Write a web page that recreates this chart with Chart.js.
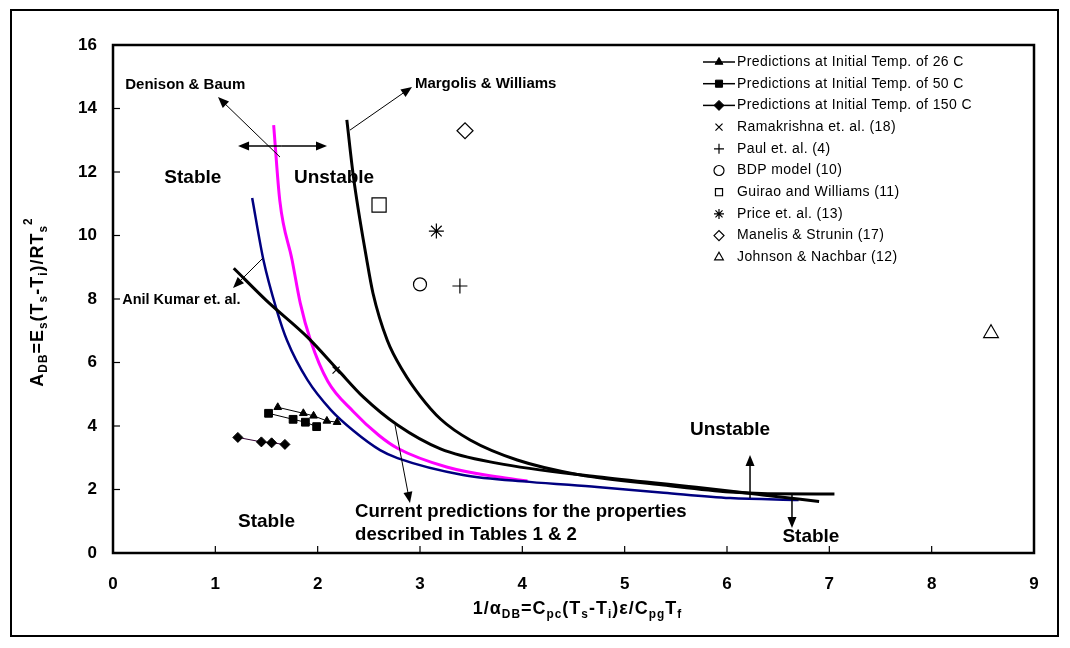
<!DOCTYPE html>
<html>
<head>
<meta charset="utf-8">
<script src="https://cdn.jsdelivr.net/npm/chart.js@4.4.1/dist/chart.umd.min.js"></script>
<style>
  html, body { margin: 0; background: #fff; }
  #wrap { width: 1070px; height: 648px; }
</style>
</head>
<body>
<div id="wrap"><canvas id="grafico"></canvas></div>
<script>
// measured predictions (small marker series)
const temp26X = [1.61, 1.86, 1.96, 2.09, 2.19];
const temp26Y = [4.59, 4.40, 4.32, 4.16, 4.12];
const temp50X = [1.52, 1.76, 1.88, 1.99];
const temp50Y = [4.40, 4.21, 4.12, 3.98];
const temp150X = [1.22, 1.45, 1.55, 1.68];
const temp150Y = [3.64, 3.50, 3.47, 3.42];

// literature points
const ramakrishna = [2.18, 5.76];
const paul = [3.39, 8.41];
const bdp = [3.00, 8.46];
const guirao = [2.60, 10.96];
const price = [3.16, 10.14];
const manelis = [3.44, 13.30];
const johnson = [8.58, 6.92];

// stability boundaries
const margolisX = [2.285, 2.35, 2.48, 2.54, 2.68, 2.84, 3.00, 3.20, 3.49, 3.95, 4.56, 5.38, 6.03, 6.40, 7.05];
const margolisY = [13.64, 11.84, 9.23, 8.19, 6.70, 5.70, 4.95, 4.22, 3.56, 2.93, 2.46, 2.14, 1.92, 1.87, 1.86];
const anilX = [1.18, 1.50, 1.90, 2.20, 2.45, 2.78, 3.20, 3.75, 4.73, 5.70, 6.35, 6.90];
const anilY = [8.97, 7.95, 6.80, 5.76, 4.90, 4.03, 3.28, 2.83, 2.40, 2.07, 1.83, 1.62];
const blueX = [1.36, 1.47, 1.60, 1.70, 1.90, 2.13, 2.35, 2.61, 2.78, 3.42, 4.07, 4.73, 5.38, 6.03, 6.70];
const blueY = [11.18, 9.23, 7.65, 6.70, 5.45, 4.50, 3.85, 3.24, 2.99, 2.46, 2.24, 2.08, 1.90, 1.73, 1.67];
const magentaX = [1.57, 1.63, 1.75, 1.83, 1.93, 2.10, 2.35, 2.60, 2.78, 3.26, 3.75, 4.05];
const magentaY = [13.48, 11.10, 9.23, 7.87, 6.70, 5.40, 4.45, 3.70, 3.30, 2.71, 2.40, 2.27];

const xTicks = [0, 1, 2, 3, 4, 5, 6, 7, 8, 9];
const yTicks = [0, 2, 4, 6, 8, 10, 12, 14, 16];

const pts = (xs, ys) => xs.map((x, i) => ({ x: x, y: ys[i] }));
const one = p => [{ x: p[0], y: p[1] }];

// text and arrows, in data units
const notes = [
    { text: 'Denison & Baum', x: 0.12, y: 14.74, size: 15, align: 'left' },
    { text: 'Margolis & Williams', x: 2.95, y: 14.77, size: 15, align: 'left' },
    { text: 'Stable', x: 0.78, y: 11.81, size: 19, align: 'center' },
    { text: 'Unstable', x: 2.16, y: 11.81, size: 19, align: 'center' },
    { text: 'Anil Kumar et. al.', x: 0.09, y: 7.97, size: 14.5, align: 'left' },
    { text: 'Current predictions for the properties', x: 2.365, y: 1.29, size: 18.6, align: 'left' },
    { text: 'described in Tables 1 & 2', x: 2.365, y: 0.57, size: 18.6, align: 'left' },
    { text: 'Unstable', x: 6.03, y: 3.87, size: 19, align: 'center' },
    { text: 'Stable', x: 6.82, y: 0.5, size: 19, align: 'center' },
    { text: 'Stable', x: 1.50, y: 0.98, size: 19, align: 'center' }
];
const arrows = [
    { from: [1.632, 12.47], to: [1.026, 14.36], w: 1 },
    { from: [1.65, 12.82], to: [1.222, 12.82], w: 1.5 },
    { from: [1.65, 12.82], to: [2.091, 12.82], w: 1.5 },
    { from: [2.316, 13.32], to: [2.922, 14.68], w: 1 },
    { from: [1.466, 9.29], to: [1.173, 8.35], w: 1 },
    { from: [2.756, 4.03], to: [2.902, 1.575], w: 1 },
    { from: [6.225, 1.73], to: [6.225, 3.09], w: 1.5 },
    { from: [6.635, 1.83], to: [6.635, 0.79], w: 1.5 }
];

const FONT = '"Liberation Sans", Arial, sans-serif';

function drawArrow(ctx, x1, y1, x2, y2, w) {
    const a = Math.atan2(y2 - y1, x2 - x1);
    ctx.save();
    ctx.strokeStyle = '#000';
    ctx.fillStyle = '#000';
    ctx.lineWidth = w;
    ctx.beginPath();
    ctx.moveTo(x1, y1);
    ctx.lineTo(x2 - 6 * Math.cos(a), y2 - 6 * Math.sin(a));
    ctx.stroke();
    ctx.beginPath();
    ctx.moveTo(x2, y2);
    ctx.lineTo(x2 - 11 * Math.cos(a) + 4.5 * Math.sin(a), y2 - 11 * Math.sin(a) - 4.5 * Math.cos(a));
    ctx.lineTo(x2 - 11 * Math.cos(a) - 4.5 * Math.sin(a), y2 - 11 * Math.sin(a) + 4.5 * Math.cos(a));
    ctx.closePath();
    ctx.fill();
    ctx.restore();
}

// text with subscripts / superscripts
function richWidth(ctx, parts, size) {
    let w = 0;
    parts.forEach(p => {
        ctx.font = 'bold ' + (p[1] ? size * 0.66 : size) + 'px ' + FONT;
        w += ctx.measureText(p[0]).width;
    });
    return w;
}
function drawRich(ctx, parts, x, y, size) {
    parts.forEach(p => {
        const s = p[1] ? size * 0.66 : size;
        ctx.font = 'bold ' + s + 'px ' + FONT;
        let dy = 0;
        if (p[1] === 'sub') dy = size * 0.3;
        if (p[1] === 'sup') dy = -size * 0.5;
        ctx.fillText(p[0], x, y + dy);
        x += ctx.measureText(p[0]).width;
    });
}

const xTitle = [['1/α'], ['DB', 'sub'], ['=C'], ['pc', 'sub'], ['(T'], ['s', 'sub'], ['-T'], ['i', 'sub'],
    [')ε/C'], ['pg', 'sub'], ['T'], ['f', 'sub']];
const yTitle = [['A'], ['DB', 'sub'], ['=E'], ['s', 'sub'], ['(T'], ['s', 'sub'], ['-T'], ['i', 'sub'],
    [')/RT'], ['s', 'sub'], ['2', 'sup']];

const extras = {
    id: 'extras',
    afterDraw(chart) {
        const ctx = chart.ctx;
        const a = chart.chartArea;
        const sx = chart.scales.x, sy = chart.scales.y;
        ctx.save();

        // outer frame
        ctx.strokeStyle = '#000';
        ctx.lineWidth = 2;
        ctx.strokeRect(11, 10, 1047, 626);

        // plot frame
        ctx.lineWidth = 2.5;
        ctx.strokeRect(a.left, a.top, a.right - a.left, a.bottom - a.top);

        // inward ticks
        ctx.lineWidth = 1.2;
        xTicks.forEach(v => {
            const px = sx.getPixelForValue(v);
            ctx.beginPath(); ctx.moveTo(px, a.bottom); ctx.lineTo(px, a.bottom - 7); ctx.stroke();
        });
        yTicks.forEach(v => {
            const py = sy.getPixelForValue(v);
            ctx.beginPath(); ctx.moveTo(a.left, py); ctx.lineTo(a.left + 7, py); ctx.stroke();
        });

        // annotations
        ctx.fillStyle = '#000';
        ctx.textBaseline = 'middle';
        notes.forEach(n => {
            ctx.font = 'bold ' + n.size + 'px ' + FONT;
            ctx.textAlign = n.align;
            ctx.fillText(n.text, sx.getPixelForValue(n.x), sy.getPixelForValue(n.y));
        });
        arrows.forEach(r => {
            drawArrow(ctx, sx.getPixelForValue(r.from[0]), sy.getPixelForValue(r.from[1]),
                sx.getPixelForValue(r.to[0]), sy.getPixelForValue(r.to[1]), r.w);
        });

        // axis titles
        ctx.textAlign = 'left';
        ctx.textBaseline = 'middle';
        ctx.letterSpacing = '1px';
        let w = richWidth(ctx, xTitle, 18);
        drawRich(ctx, xTitle, (a.left + a.right) / 2 - w / 2 + 4, 609, 18);
        ctx.save();
        ctx.translate(38, 302);
        ctx.rotate(-Math.PI / 2);
        w = richWidth(ctx, yTitle, 18);
        drawRich(ctx, yTitle, -w / 2, 0, 18);
        ctx.restore();
        ctx.letterSpacing = '0px';

        // legend
        let ly = a.top + 17;
        const lx = a.right - 331;
        chart.data.datasets.forEach(ds => {
            if (ds.noLegend) return;
            ctx.strokeStyle = '#000';
            ctx.fillStyle = '#000';
            if (ds.showLine) {
                ctx.lineWidth = 1.5;
                ctx.beginPath(); ctx.moveTo(lx, ly); ctx.lineTo(lx + 32, ly); ctx.stroke();
            }
            ctx.fillStyle = ds.pointBackgroundColor;
            ctx.strokeStyle = '#000';
            ctx.lineWidth = ds.pointBorderWidth;
            Chart.helpers.drawPoint(ctx, {
                pointStyle: ds.pointStyle, rotation: 0,
                radius: Math.min(ds.pointRadius, 5), borderWidth: ds.pointBorderWidth
            }, lx + 16, ly);
            ctx.fillStyle = '#000';
            ctx.textAlign = 'left';
            ctx.font = '14px ' + FONT;
            ctx.letterSpacing = '0.4px';
            ctx.fillText(ds.label, lx + 34, ly);
            ctx.letterSpacing = '0px';
            ly += 21.7;
        });
        ctx.restore();
    }
};

const markerSeries = (label, data, style, r, lineColor) => ({
    label: label, data: data, showLine: true,
    borderColor: lineColor, borderWidth: 1,
    pointStyle: style, pointRadius: r, pointBackgroundColor: '#000',
    pointBorderColor: '#000', pointBorderWidth: 1
});
const openPoint = (label, data, style, r) => ({
    label: label, data: data, showLine: false,
    pointStyle: style, pointRadius: r, pointBackgroundColor: 'rgba(0,0,0,0)',
    pointBorderColor: '#000', pointBorderWidth: 1.2
});
const curve = (label, data, color, w) => ({
    label: label, data: data, showLine: true, noLegend: true,
    borderColor: color, borderWidth: w, pointRadius: 0,
    cubicInterpolationMode: 'monotone'
});

const ctx = document.getElementById('grafico').getContext('2d');
new Chart(ctx, {
    type: 'scatter',
    data: {
        datasets: [
            markerSeries('Predictions at Initial Temp. of 26 C', pts(temp26X, temp26Y), 'triangle', 4.5, '#000'),
            markerSeries('Predictions at Initial Temp. of 50 C', pts(temp50X, temp50Y), 'rect', 5.5, '#000'),
            markerSeries('Predictions at Initial Temp. of 150 C', pts(temp150X, temp150Y), 'rectRot', 5, '#330033'),
            openPoint('Ramakrishna et. al. (18)', one(ramakrishna), 'crossRot', 5),
            openPoint('Paul et. al. (4)', one(paul), 'cross', 7.5),
            openPoint('BDP model (10)', one(bdp), 'circle', 6.5),
            openPoint('Guirao and Williams (11)', one(guirao), 'rect', 10),
            openPoint('Price et. al. (13)', one(price), 'star', 7.5),
            openPoint('Manelis & Strunin (17)', one(manelis), 'rectRot', 8),
            openPoint('Johnson & Nachbar (12)', one(johnson), 'triangle', 8.5),
            curve('Margolis & Williams', pts(margolisX, margolisY), '#000', 3),
            curve('Anil Kumar et. al.', pts(anilX, anilY), '#000', 3),
            curve('Current predictions (blue)', pts(blueX, blueY), '#000080', 2.5),
            curve('Current predictions (magenta)', pts(magentaX, magentaY), '#ff00ff', 3)
        ]
    },
    options: {
        responsive: true,
        maintainAspectRatio: false,
        animation: false,
        devicePixelRatio: 1,
        layout: { padding: { top: 45, right: 36, left: 0, bottom: 0 } },
        plugins: {
            legend: { display: false },
            tooltip: { enabled: false }
        },
        scales: {
            x: {
                type: 'linear', min: 0, max: 9,
                afterFit: s => { s.height = 95; },
                afterBuildTicks: s => { s.ticks = xTicks.map(v => ({ value: v })); },
                grid: { display: false, drawTicks: false },
                border: { display: false },
                ticks: { color: '#000', padding: 21, font: { family: FONT, size: 17, weight: 'bold' } }
            },
            y: {
                type: 'linear', min: 0, max: 16,
                afterFit: s => { s.width = 113; },
                afterBuildTicks: s => { s.ticks = yTicks.map(v => ({ value: v })); },
                grid: { display: false, drawTicks: false },
                border: { display: false },
                ticks: { color: '#000', padding: 16, font: { family: FONT, size: 17, weight: 'bold' } }
            }
        }
    },
    plugins: [extras]
});
</script>
</body>
</html>
